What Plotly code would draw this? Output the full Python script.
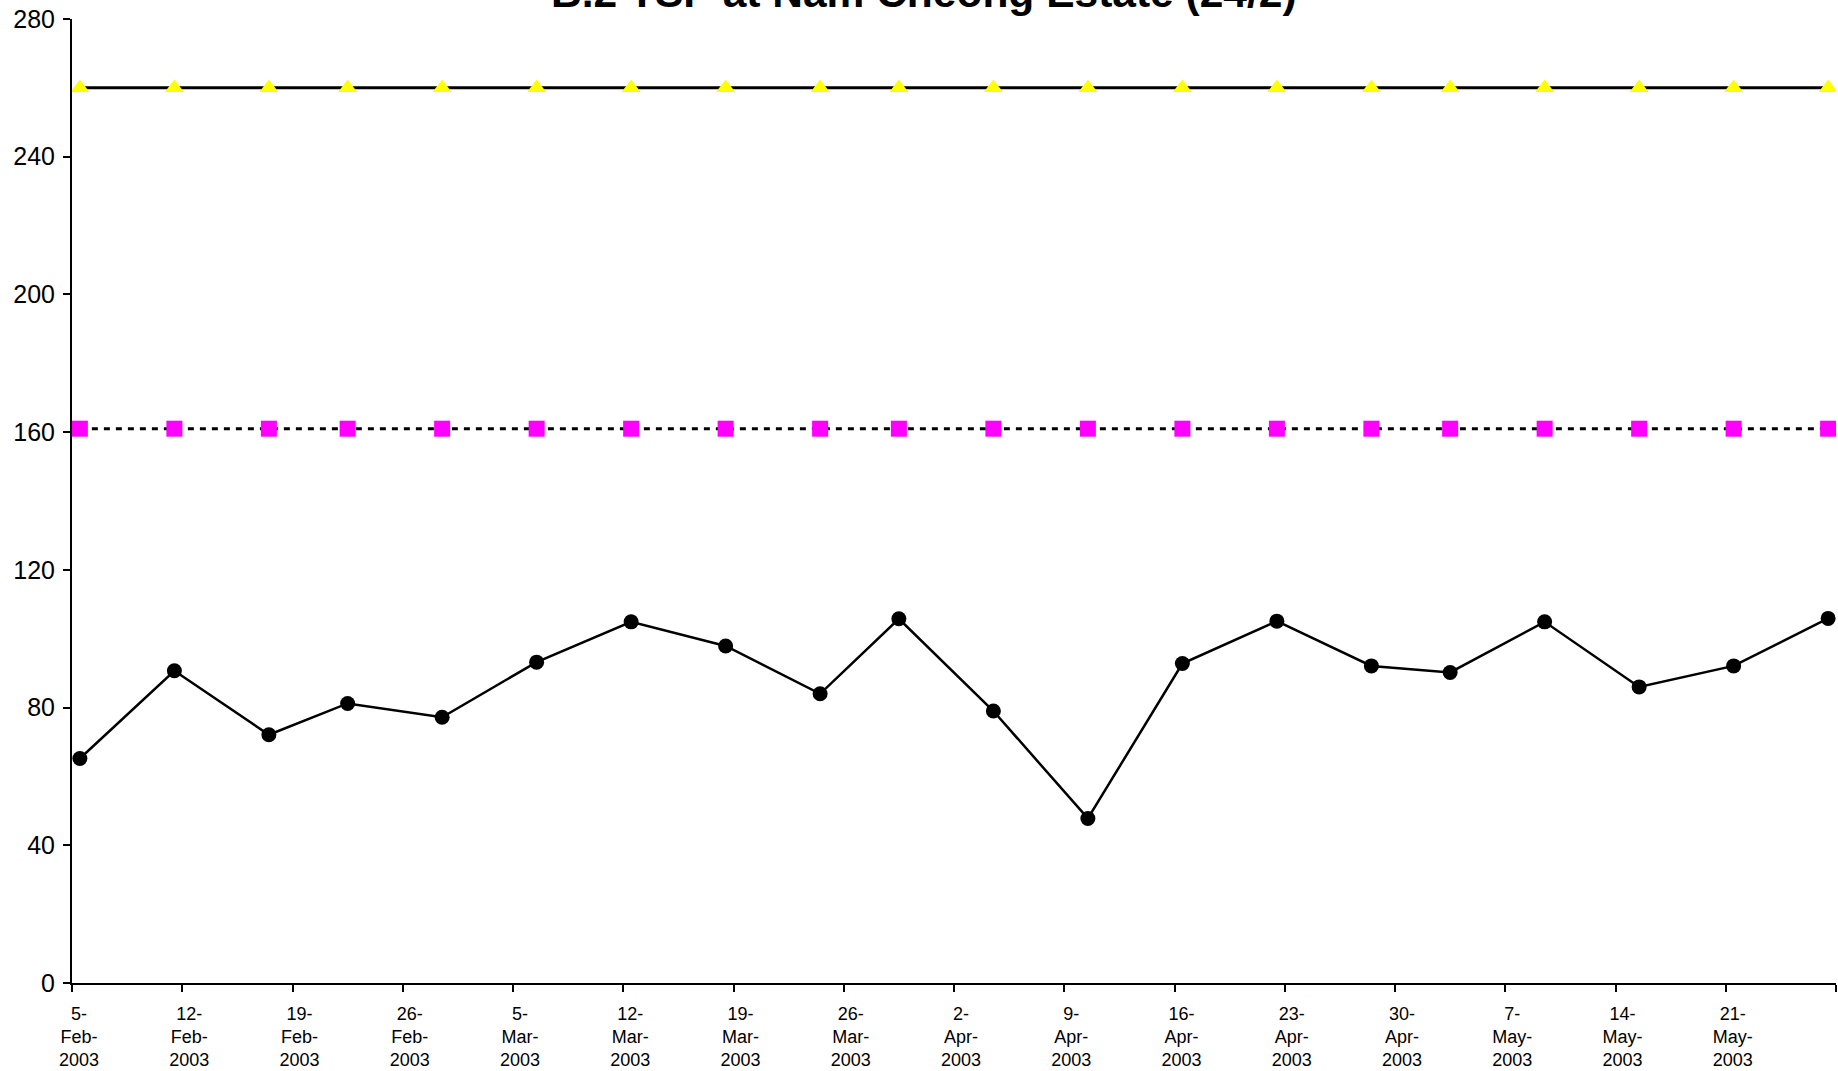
import plotly.graph_objects as go

# ---- data ----
sample_dates = ["2003-02-05", "2003-02-11", "2003-02-17", "2003-02-22", "2003-02-28",
                "2003-03-06", "2003-03-12", "2003-03-18", "2003-03-24", "2003-03-29",
                "2003-04-04", "2003-04-10", "2003-04-16", "2003-04-22", "2003-04-28",
                "2003-05-03", "2003-05-09", "2003-05-15", "2003-05-21", "2003-05-27"]
tsp_values = [65.2, 90.7, 72.1, 81.2, 77.2, 93.2, 104.9, 97.9, 84.0, 105.8,
              79.0, 47.8, 92.8, 105.1, 92.1, 90.2, 104.9, 86.0, 92.1, 105.9]
limit_level = 260
action_level = 161

tick_dates = ["2003-02-05", "2003-02-12", "2003-02-19", "2003-02-26", "2003-03-05",
              "2003-03-12", "2003-03-19", "2003-03-26", "2003-04-02", "2003-04-09",
              "2003-04-16", "2003-04-23", "2003-04-30", "2003-05-07", "2003-05-14",
              "2003-05-21", "2003-05-28"]
tick_labels = ["5-<br>Feb-<br>2003", "12-<br>Feb-<br>2003", "19-<br>Feb-<br>2003",
               "26-<br>Feb-<br>2003", "5-<br>Mar-<br>2003", "12-<br>Mar-<br>2003",
               "19-<br>Mar-<br>2003", "26-<br>Mar-<br>2003", "2-<br>Apr-<br>2003",
               "9-<br>Apr-<br>2003", "16-<br>Apr-<br>2003", "23-<br>Apr-<br>2003",
               "30-<br>Apr-<br>2003", "7-<br>May-<br>2003", "14-<br>May-<br>2003",
               "21-<br>May-<br>2003", ""]
y_ticks = [0, 40, 80, 120, 160, 200, 240, 280]
title_text = "B.2 TSP at Nam Cheong Estate (24/2)"

# points sit in the middle of each day (Excel "between tick marks" date axis)
x_pts = [d + " 12:00" for d in sample_dates]

FONT = "Liberation Sans, Arial, sans-serif"

fig = go.Figure()
fig.add_trace(go.Scatter(
    x=x_pts, y=[limit_level] * len(x_pts), mode="lines+markers",
    line=dict(color="black", width=3),
    marker=dict(symbol="triangle-up", size=16.5, color="#FFFF00", line=dict(width=0)),
    hoverinfo="skip", showlegend=False))
fig.add_trace(go.Scatter(
    x=x_pts, y=[action_level] * len(x_pts), mode="lines+markers",
    line=dict(color="black", width=3, dash="6px,6px"),
    marker=dict(symbol="square", size=16, color="#FF00FF", line=dict(width=0)),
    hoverinfo="skip", showlegend=False))
fig.add_trace(go.Scatter(
    x=x_pts, y=tsp_values, mode="lines+markers",
    line=dict(color="black", width=2.5),
    marker=dict(symbol="circle", size=15, color="black", line=dict(width=0)),
    showlegend=False))

fig.update_layout(
    width=1838, height=1071,
    margin=dict(l=72, r=2, t=19, b=88),
    paper_bgcolor="white", plot_bgcolor="white",
    font=dict(family=FONT, color="black"),
    showlegend=False,
    annotations=[dict(
        text="<b>" + title_text + "</b>", xref="paper", yref="paper",
        x=0.483, y=1.0, xanchor="center", yanchor="middle",
        yshift=27, showarrow=False,
        font=dict(family=FONT, size=42.5, color="black"))],
)
fig.update_xaxes(
    type="date", range=["2003-02-05", "2003-05-28"],
    tickmode="array", tickvals=tick_dates, ticktext=tick_labels,
    ticks="outside", ticklen=7, tickwidth=2, tickcolor="black",
    showline=True, linecolor="black", linewidth=2,
    showgrid=False, zeroline=False,
    tickfont=dict(family=FONT, size=18, color="black"),
    ticklabelshift=7, ticklabelstandoff=6, tickangle=0)
fig.update_yaxes(
    range=[0, 280], tickmode="array", tickvals=y_ticks,
    ticks="outside", ticklen=7, tickwidth=2, tickcolor="black",
    showline=True, linecolor="black", linewidth=2,
    showgrid=False, zeroline=False,
    tickfont=dict(family=FONT, size=25, color="black"),
    ticklabelstandoff=3)

fig.write_html("out.html", config={"displayModeBar": False},
               post_script="document.body.style.margin='0';document.body.style.overflow='hidden';")
